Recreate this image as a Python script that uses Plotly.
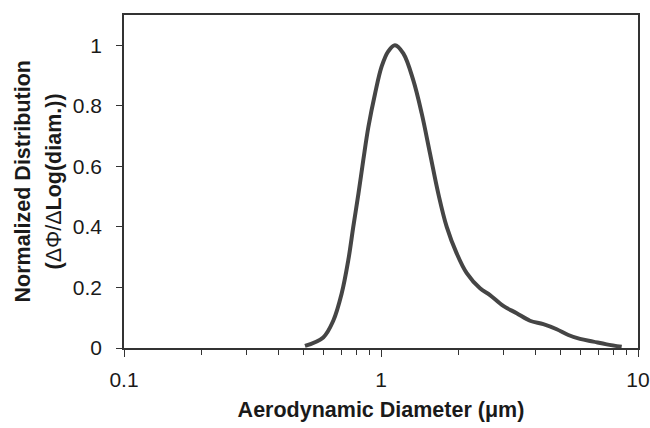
import plotly.graph_objects as go

# particle size distribution
diameter = [0.506, 0.596, 0.652, 0.703, 0.746, 0.780, 0.817, 0.853, 0.893, 0.948,
            1.006, 1.067, 1.133, 1.221, 1.336, 1.440, 1.551, 1.671, 1.802, 1.970,
            2.156, 2.428, 2.655, 2.991, 3.373, 3.80, 4.281, 4.828, 5.356, 5.948,
            6.70, 7.553, 8.64]
norm_dist = [0.007, 0.035, 0.090, 0.18, 0.29, 0.40, 0.51, 0.62, 0.73, 0.84,
             0.93, 0.98, 1.0, 0.973, 0.884, 0.775, 0.643, 0.51, 0.40, 0.3125,
             0.247, 0.197, 0.175, 0.139, 0.115, 0.090, 0.079, 0.062, 0.043, 0.030,
             0.021, 0.012, 0.004]

x_ticks = [0.1, 1, 10]
x_labels = ['0.1', '1', '10']
x_minor = [0.2, 0.3, 0.4, 0.5, 0.6, 0.7, 0.8, 0.9, 2, 3, 4, 5, 6, 7, 8, 9]
y_ticks = [0, 0.2, 0.4, 0.6, 0.8, 1]
y_labels = ['0', '0.2', '0.4', '0.6', '0.8', '1']

axis_col = '#333333'
font_fam = 'Liberation Sans, Arial, sans-serif'

fig = go.Figure()
fig.add_trace(go.Scatter(x=diameter, y=norm_dist, mode='lines',
                         line=dict(color='#454545', width=4, shape='spline', smoothing=1.0),
                         showlegend=False))

fig.update_layout(
    width=650, height=428,
    margin=dict(l=124, r=12, t=15, b=80),
    paper_bgcolor='white', plot_bgcolor='white',
    font=dict(family=font_fam, size=21, color='#1a1a1a'),
)
fig.update_xaxes(type='log', range=[-1, 1], automargin=False,
                 tickvals=x_ticks, ticktext=x_labels,
                 ticks='outside', ticklen=7, tickwidth=1.3, tickcolor=axis_col,
                 ticklabelstandoff=5,
                 minor=dict(ticks='outside', ticklen=5, tickwidth=1.3, tickcolor=axis_col,
                            tickvals=x_minor, showgrid=False),
                 showline=True, linecolor=axis_col, linewidth=1.5, mirror=True,
                 showgrid=False, zeroline=False,
                 title=dict(text='<b>Aerodynamic Diameter (μm)</b>', font=dict(size=21.5), standoff=12))
fig.update_yaxes(range=[0, 1.1], automargin=False,
                 tickvals=y_ticks, ticktext=y_labels,
                 ticks='outside', ticklen=6, tickwidth=1.3, tickcolor=axis_col,
                 ticklabelstandoff=10,
                 showline=True, linecolor=axis_col, linewidth=1.5, mirror=True,
                 showgrid=False, zeroline=False)

# two-line y title as rotated annotations (wider line spacing than <br>)
fig.add_annotation(text='<b>Normalized Distribution</b>', textangle=-90,
                   xref='paper', yref='paper', x=0, y=0.5, xanchor='center', yanchor='middle',
                   xshift=-102, showarrow=False, font=dict(size=21.5))
fig.add_annotation(text='<b>(</b>ΔΦ/Δ<b>Log(diam.))</b>', textangle=-90,
                   xref='paper', yref='paper', x=0, y=0.5, xanchor='center', yanchor='middle',
                   xshift=-71, showarrow=False, font=dict(size=21.5))

# drop the default page margin so the 650x428 figure fills the window without scrollbars
fig.write_html("out.html", config={'displayModeBar': False},
               post_script="document.body.style.margin='0';document.body.style.overflow='hidden';")
